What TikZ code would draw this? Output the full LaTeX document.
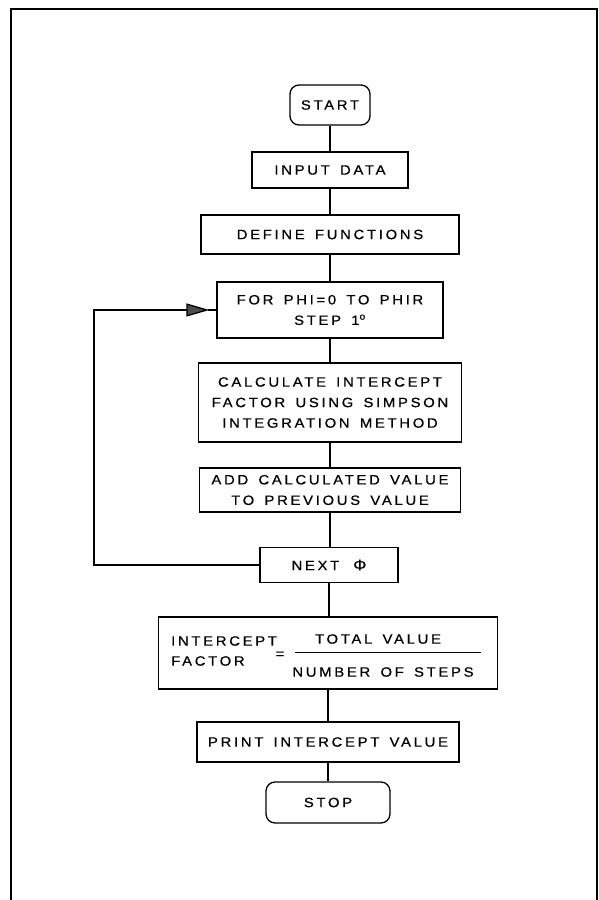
\documentclass[tikz,border=0pt]{standalone}
\usepackage{fontspec}
\setmainfont{Liberation Sans}[FakeStretch=1.1,LetterSpace=20,WordSpace=1.5,FakeBold=0.6]
\usetikzlibrary{arrows.meta}
\tikzset{
  box/.style={draw, line width=1.3pt, inner sep=0pt, align=center,
    font=\fontsize{13.5}{20.5}\selectfont},
  term/.style={box, rounded corners=9pt},
  flow/.style={line width=1.3pt},
  txt/.style={inner sep=0pt, font=\fontsize{13.5}{20}\selectfont},
}
\begin{document}
\begin{tikzpicture}[x=1pt,y=-1pt]
\useasboundingbox (0,0) rectangle (599,900);
% frame
\draw[line width=2pt] (11,900) -- (11,9) -- (597,9) -- (597,900);

\node[term, minimum width=80pt, minimum height=40pt] (start) at (330,105) {START};
\node[box, minimum width=156pt, minimum height=36pt] (input) at (330,170) {INPUT DATA};
\node[box, minimum width=258pt, minimum height=39pt] (define) at (330,234.5) {DEFINE FUNCTIONS};
\node[box, minimum width=226pt, minimum height=56pt] (for) at (330,310) {FOR PHI=0 TO PHIR\\STEP 1\textsuperscript{o}};
\node[box, minimum width=263pt, minimum height=79pt] (calc) at (330,402.5) {CALCULATE INTERCEPT\\FACTOR USING SIMPSON\\INTEGRATION METHOD};
\node[box, minimum width=261pt, minimum height=44pt] (add) at (330,490) {ADD CALCULATED VALUE\\TO PREVIOUS VALUE};
\node[box, minimum width=138pt, minimum height=35pt] (next) at (329,565) {NEXT\hspace{14pt}{\fontsize{15}{15}\selectfont Φ}};
\node[box, minimum width=339pt, minimum height=72pt] (eq) at (328,653) {};
\node[box, minimum width=262pt, minimum height=40pt] (print) at (328,742) {PRINT INTERCEPT VALUE};
\node[term, minimum width=124pt, minimum height=41pt] (stop) at (328,802.5) {STOP};

% equation content
\node[txt, anchor=west, align=left] (lhs) at (171,651) {INTERCEPT\\FACTOR};
\node[txt] (eqs) at (280,655) {=};
\node[txt] (num) at (378,639) {TOTAL VALUE};
\node[txt] (den) at (383,672) {NUMBER OF STEPS};
\coordinate (bl) at (295,652);
\coordinate (br) at (481,652);
\draw[line width=1pt] (bl) -- (br);

% connectors
\draw[flow] (start.south) -- (start.south |- input.north);
\draw[flow] (input.south) -- (input.south |- define.north);
\draw[flow] (define.south) -- (define.south |- for.north);
\draw[flow] (for.south) -- (for.south |- calc.north);
\draw[flow] (calc.south) -- (calc.south |- add.north);
\draw[flow] (add.south) -- (add.south |- next.north);
\draw[flow] (next.south) -- (next.south |- eq.north);
\draw[flow] (eq.south) -- (eq.south |- print.north);
\draw[flow] (print.south) -- (print.south |- stop.north);

% loop back
\coordinate (lx) at (94,0);
\draw[flow] (for.west) -- ++(-8,0);
\draw[flow, -{Triangle[length=23pt,width=13pt,fill=black!70]}, shorten >=7pt]
  (next.west) -- (next.west -| lx) |- (for.west);
\end{tikzpicture}
\end{document}
